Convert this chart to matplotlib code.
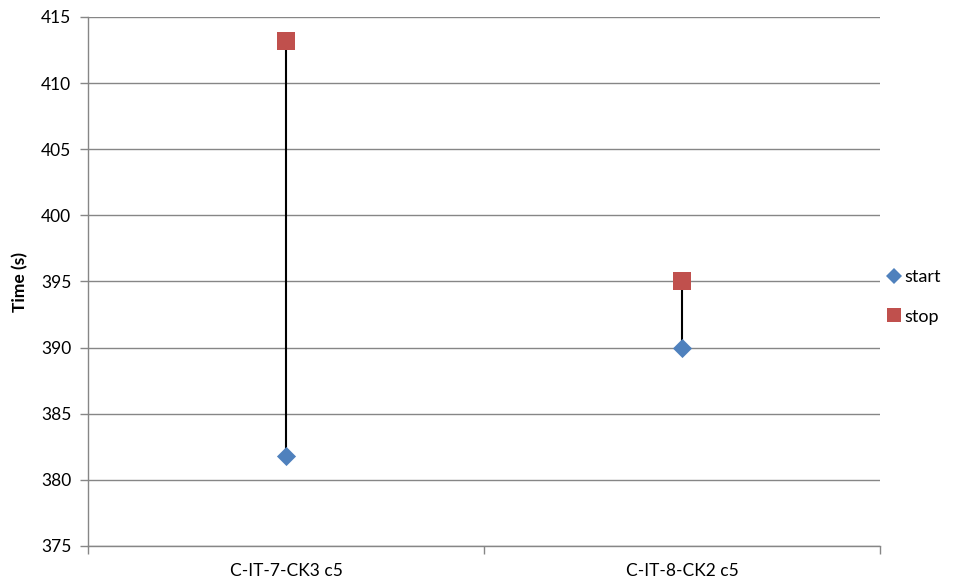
import matplotlib
matplotlib.use("Agg")
import matplotlib.pyplot as plt
from matplotlib.lines import Line2D

categories = ["C-IT-7-CK3 c5", "C-IT-8-CK2 c5"]
start = [381.8, 390.0]
stop = [413.2, 395.0]
yticks = [375, 380, 385, 390, 395, 400, 405, 410, 415]

plt.rcParams['font.family'] = ['Lato', 'DejaVu Sans']

fig = plt.figure(figsize=(9.74, 5.87), dpi=100)
ax = fig.add_axes([88/974, 1-546/587, (880-88)/974, (546-17)/587])

xs = [i + 0.5 for i in range(len(categories))]
gray = '#868686'
for y in yticks:
    ax.axhline(y, color=gray, lw=1.0, zorder=1)
for x, a, b in zip(xs, start, stop):
    ax.plot([x, x], [a, b], color='black', lw=1.5, zorder=2)
ax.scatter(xs, start, marker='D', s=95, color='#4F81BD', zorder=3, label='start', linewidths=0)
ax.scatter(xs, stop, marker='s', s=170, color='#C0504D', zorder=3, label='stop', linewidths=0)

ax.set_xlim(0, len(categories))
ax.set_ylim(375, 415)
ax.set_yticks(yticks)
ax.set_yticklabels([str(v) for v in yticks])
ax.set_xticks([0, 1, 2])
ax.set_xticklabels([])
ax.set_xticks(xs, minor=True)
ax.set_xticklabels(categories, minor=True)
ax.tick_params(axis='x', which='minor', length=0, pad=12, labelsize=12.5)
ax.tick_params(axis='x', which='major', length=6, color=gray, width=1)
ax.tick_params(axis='y', length=6, color=gray, width=1, labelsize=12.5, pad=6)
for s in ['top', 'right']:
    ax.spines[s].set_visible(False)
for s in ['left', 'bottom']:
    ax.spines[s].set_color(gray)
    ax.spines[s].set_linewidth(1.0)
ax.set_ylabel('Time (s)', fontweight='bold', fontsize=12.5, labelpad=9)

handles = [Line2D([], [], marker='D', ls='none', color='#4F81BD', markersize=8, markeredgewidth=0),
           Line2D([], [], marker='s', ls='none', color='#C0504D', markersize=10, markeredgewidth=0)]
fig.legend(handles, ['start', 'stop'], loc='center left', bbox_to_anchor=(872/974, 1-297/587),
           frameon=False, fontsize=13, handlelength=0.6, handletextpad=0.3, labelspacing=1.3)

fig.savefig('out.png', dpi=100)
